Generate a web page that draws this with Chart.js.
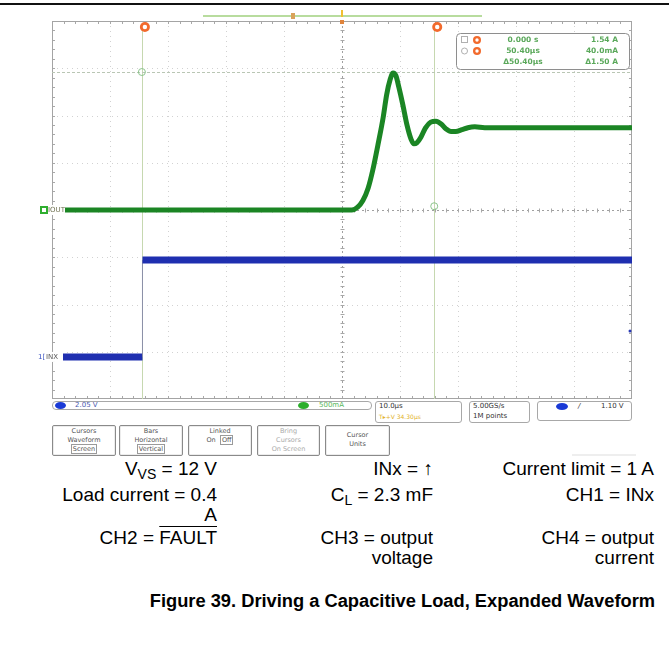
<!DOCTYPE html>
<html>
<head>
<meta charset="utf-8">
<script src="https://cdn.jsdelivr.net/npm/chart.js@4.4.1/dist/chart.umd.min.js"></script>
<style>
html,body{margin:0;padding:0;background:#fff;}
body{position:relative;width:669px;height:654px;overflow:hidden;font-family:"Liberation Sans",Arial,sans-serif;}
#rule{position:absolute;left:0;top:3px;width:669px;height:2px;background:#111;}
#scope{position:absolute;left:0;top:0;}
.sb{position:absolute;border:1px solid #a8a8a8;border-radius:3px;background:#fff;font-family:"DejaVu Sans",sans-serif;font-size:7px;line-height:9px;color:#333;box-sizing:border-box;white-space:nowrap;}
.oval{position:absolute;border-radius:50%;}
.btn{position:absolute;top:425px;height:31px;border:1px solid #8a8a8a;border-radius:2px;box-sizing:border-box;font-family:"DejaVu Sans",sans-serif;font-size:6.5px;line-height:9px;color:#555;text-align:center;padding-top:1px;box-shadow:inset 0 0 0 1px #ececec;white-space:nowrap;}
.sel{border:1px solid #9a9a9a;padding:0 1px;}
.t{position:absolute;font-size:19px;line-height:20px;color:#000;text-align:right;white-space:nowrap;}
.sub{font-size:14px;position:relative;top:4px;}
#cap{position:absolute;top:590px;right:14px;font-size:18.3px;font-weight:bold;line-height:22px;white-space:nowrap;}
</style>
</head>
<body>
<div id="rule"></div>
<canvas id="scope" width="669" height="400"></canvas>

<!-- status bar -->
<div class="sb" style="left:52px;top:401px;width:320px;height:9px;border-radius:4px;">
  <div class="oval" style="left:2px;top:0px;width:11px;height:7px;background:#1a3ad6;"></div>
  <span style="position:absolute;left:22px;top:-1px;color:#4a5ab0;">2.05 V</span>
  <div class="oval" style="left:245px;top:0px;width:11px;height:7px;background:#2cae2c;"></div>
  <span style="position:absolute;left:266px;top:-1px;color:#5ab85a;">500mA</span>
</div>
<div class="sb" style="left:375px;top:401px;width:87px;height:22px;">
  <span style="position:absolute;left:3px;top:0px;">10.0µs</span>
  <span style="position:absolute;left:3px;top:10px;color:#e2b22a;font-size:6px;">T▸+V 34.30µs</span>
</div>
<div class="sb" style="left:469px;top:401px;width:61px;height:22px;">
  <span style="position:absolute;left:3px;top:0px;">5.00GS/s</span>
  <span style="position:absolute;left:3px;top:10px;">1M points</span>
</div>
<div class="sb" style="left:537px;top:401px;width:95px;height:20px;">
  <div class="oval" style="left:18px;top:1px;width:12px;height:7px;background:#1a3ad6;"></div>
  <span style="position:absolute;left:40px;top:0px;font-style:italic;">/</span>
  <span style="position:absolute;left:63px;top:0px;">1.10 V</span>
</div>

<!-- menu buttons -->
<div class="btn" style="left:52px;width:64px;">Cursors<br>Waveform<br><span class="sel">Screen</span></div>
<div class="btn" style="left:119px;width:64px;">Bars<br>Horizontal<br><span class="sel">Vertical</span></div>
<div class="btn" style="left:188px;width:64px;">Linked<br>On &nbsp;<span class="sel">Off</span></div>
<div class="btn" style="left:257px;width:63px;color:#aaa;">Bring<br>Cursors<br>On Screen</div>
<div class="btn" style="left:325px;width:65px;padding-top:5px;">Cursor<br>Units</div>
<div style="position:absolute;left:572px;top:454px;width:64px;height:2px;background:#eee;"></div>

<!-- test conditions -->
<div class="t" style="right:452px;top:459px;">V<span class="sub">VS</span> = 12 V</div>
<div class="t" style="right:452px;top:485px;">Load current = 0.4<br>A</div>
<div class="t" style="right:452px;top:528px;">CH2 = <span style="text-decoration:overline;">FAULT</span></div>
<div class="t" style="right:236px;top:459px;">INx = ↑</div>
<div class="t" style="right:236px;top:485px;">C<span class="sub">L</span> = 2.3 mF</div>
<div class="t" style="right:236px;top:528px;">CH3 = output<br>voltage</div>
<div class="t" style="right:15px;top:459px;">Current limit = 1 A</div>
<div class="t" style="right:15px;top:485px;">CH1 = INx</div>
<div class="t" style="right:15px;top:528px;">CH4 = output<br>current</div>
<div id="cap">Figure 39. Driving a Capacitive Load, Expanded Waveform</div>

<script>
// ---- data ----
// CH4 output current (A) vs time (µs), time 0 = cursor 1 (INx rising edge)
const timeUs = [-15.5, 36.2, 37.2, 38.1, 39.0, 39.8, 40.7, 41.6, 42.2, 42.8, 43.3, 43.8, 44.3, 45.0, 45.7, 46.4, 46.9, 47.4, 48.1, 48.9, 49.8, 50.7, 51.6, 52.4, 53.3, 54.1, 55.2, 56.2, 57.4, 59.1, 84.5];
const ioutA  = [0.00, 0.00, 0.03, 0.10, 0.23, 0.42, 0.69, 0.98, 1.22, 1.38, 1.45, 1.42, 1.30, 1.11, 0.90, 0.75, 0.70, 0.71, 0.77, 0.87, 0.93, 0.94, 0.91, 0.86, 0.83, 0.83, 0.85, 0.87, 0.88, 0.87, 0.87];
// CH1 INx (V)
const inxTimeUs = [-15.5, 0.1, 0.1, 84.5];
const inxV      = [0.0, 0.0, 4.1, 4.1];
// graticule divisions
const divX = [0,1,2,3,4,5,6,7,8,9,10];
const divY = [-4,-3,-2,-1,0,1,2,3,4];
// cursors
const cursorTimeUs = [0, 50.4];
const cursorLevelA = [1.46, 0.04];
const readoutTime  = ['0.000 s', '50.40µs', 'Δ50.40µs'];
const readoutLevel = ['1.54 A', '40.0mA', 'Δ1.50 A'];

const toXY = (xs, ys) => ys.map((v, i) => ({x: xs[i], y: v}));

const deco = {
  id: 'deco',
  beforeDatasetsDraw(chart) {
    const {ctx, chartArea: a, scales} = chart;
    const xs = scales.xd, ys = scales.yd;
    ctx.save();
    ctx.lineWidth = 1;
    ctx.strokeStyle = '#d2d2d2';
    ctx.setLineDash([1, 4]);
    divX.forEach(d => {
      if (d === 0 || d === 10 || d === 5) return;
      const p = Math.round(xs.getPixelForValue(d)) + 0.5;
      ctx.beginPath(); ctx.moveTo(p, a.top); ctx.lineTo(p, a.bottom); ctx.stroke();
    });
    divY.forEach(d => {
      if (d === 0 || d === 4 || d === -4) return;
      const p = Math.round(ys.getPixelForValue(d)) + 0.5;
      ctx.beginPath(); ctx.moveTo(a.left, p); ctx.lineTo(a.right, p); ctx.stroke();
    });
    ctx.strokeStyle = '#a0a0a0';
    ctx.setLineDash([2, 3]);
    const cx = Math.round(xs.getPixelForValue(5)) + 0.5;
    const cy = Math.round(ys.getPixelForValue(0)) + 0.5;
    ctx.beginPath(); ctx.moveTo(cx, a.top); ctx.lineTo(cx, a.bottom); ctx.stroke();
    ctx.beginPath(); ctx.moveTo(a.left, cy); ctx.lineTo(a.right, cy); ctx.stroke();
    ctx.setLineDash([]);
    ctx.strokeStyle = '#a8a8a8';
    for (let k = 1; k < 50; k++) {
      const p = Math.round(xs.getPixelForValue(k / 5)) + 0.5;
      ctx.beginPath();
      ctx.moveTo(p, cy - 2); ctx.lineTo(p, cy + 2);
      ctx.moveTo(p, a.top); ctx.lineTo(p, a.top + 3);
      ctx.moveTo(p, a.bottom); ctx.lineTo(p, a.bottom - 3);
      ctx.stroke();
    }
    for (let k = -19; k < 20; k++) {
      const p = Math.round(ys.getPixelForValue(k / 5)) + 0.5;
      ctx.beginPath();
      ctx.moveTo(cx - 2, p); ctx.lineTo(cx + 2, p);
      ctx.moveTo(a.left, p); ctx.lineTo(a.left + 3, p);
      ctx.moveTo(a.right, p); ctx.lineTo(a.right - 3, p);
      ctx.stroke();
    }
    ctx.strokeStyle = '#a4a4a4';
    ctx.strokeRect(a.left + 0.5, a.top + 0.5, a.width - 1, a.height - 1);
    const tx = scales.x, ya = scales.yA;
    ctx.strokeStyle = '#c6d8b0';
    cursorTimeUs.forEach(t => {
      const p = Math.round(tx.getPixelForValue(t)) + 0.5;
      ctx.beginPath(); ctx.moveTo(p, a.top + 10); ctx.lineTo(p, a.bottom); ctx.stroke();
    });
    ctx.strokeStyle = '#b9c6b4';
    ctx.setLineDash([3, 2]);
    const hy = Math.round(ya.getPixelForValue(cursorLevelA[0])) + 0.5;
    ctx.beginPath(); ctx.moveTo(a.left, hy); ctx.lineTo(a.right, hy); ctx.stroke();
    ctx.restore();
  },
  afterDatasetsDraw(chart) {
    const {ctx, chartArea: a, scales} = chart;
    const tx = scales.x, ya = scales.yA, yv = scales.yV;
    ctx.save();
    const gy = ya.getPixelForValue(0);
    ctx.fillStyle = '#fff'; ctx.fillRect(a.left - 12, gy - 5, 25, 10);
    ctx.strokeStyle = '#2fae2f'; ctx.lineWidth = 2;
    ctx.strokeRect(a.left - 11, gy - 3, 6, 6);
    ctx.fillStyle = '#6e7050'; ctx.font = '7px "DejaVu Sans"'; ctx.textBaseline = 'middle';
    ctx.fillText('IOUT', a.left - 4, gy + 0.5);
    const by = yv.getPixelForValue(0);
    ctx.fillStyle = '#fff'; ctx.fillRect(a.left - 14, by - 5, 25, 10);
    ctx.fillStyle = '#3a52c0'; ctx.fillText('1[', a.left - 14, by + 0.5);
    ctx.fillStyle = '#555'; ctx.fillText('INX', a.left - 6, by + 0.5);
    ctx.fillStyle = '#2a3ab8';
    ctx.beginPath(); ctx.arc(a.right - 2, yv.getPixelForValue(1.1), 1.5, 0, Math.PI * 2); ctx.fill();
    ctx.strokeStyle = '#8cc48c'; ctx.lineWidth = 1;
    cursorTimeUs.forEach((t, i) => {
      ctx.beginPath(); ctx.arc(tx.getPixelForValue(t), ya.getPixelForValue(cursorLevelA[i]), 3.5, 0, Math.PI * 2); ctx.stroke();
    });
    cursorTimeUs.forEach(t => {
      const p = tx.getPixelForValue(t);
      ctx.fillStyle = '#f26a2c';
      ctx.beginPath(); ctx.arc(p + 3, a.top + 6, 5, 0, Math.PI * 2); ctx.fill();
      ctx.fillStyle = '#fff';
      ctx.beginPath(); ctx.arc(p + 3, a.top + 6, 2.2, 0, Math.PI * 2); ctx.fill();
    });
    ctx.strokeStyle = '#b8dc9e'; ctx.lineWidth = 2;
    ctx.beginPath(); ctx.moveTo(203, a.top - 5); ctx.lineTo(482, a.top - 5); ctx.stroke();
    ctx.fillStyle = '#d9a25a'; ctx.fillRect(291, a.top - 8, 4, 6);
    const cx = scales.xd.getPixelForValue(5);
    ctx.strokeStyle = '#f0c030'; ctx.lineWidth = 2;
    ctx.beginPath(); ctx.moveTo(cx, a.top - 11); ctx.lineTo(cx, a.top - 4); ctx.stroke();
    ctx.fillStyle = '#e0843c'; ctx.fillRect(cx - 2, a.top - 1, 4, 4);
    const bx = 456, btop = 33, bw = 173, bh = 36;
    ctx.fillStyle = '#fff'; ctx.strokeStyle = '#8e8e8e'; ctx.lineWidth = 1;
    ctx.beginPath(); ctx.roundRect(bx + 0.5, btop + 0.5, bw, bh, 4); ctx.fill(); ctx.stroke();
    ctx.font = 'bold 7.5px "DejaVu Sans"'; ctx.textBaseline = 'middle';
    readoutTime.forEach((s, i) => {
      const ry = btop + 7 + i * 11;
      if (i < 2) {
        ctx.strokeStyle = '#b0b0b0';
        if (i === 0) ctx.strokeRect(bx + 5.5, ry - 3.5, 6, 6);
        else { ctx.beginPath(); ctx.arc(bx + 8.5, ry, 3, 0, Math.PI * 2); ctx.stroke(); }
        ctx.fillStyle = '#f26a2c';
        ctx.beginPath(); ctx.arc(bx + 21, ry, 4, 0, Math.PI * 2); ctx.fill();
        ctx.fillStyle = '#fff';
        ctx.beginPath(); ctx.arc(bx + 21, ry, 1.7, 0, Math.PI * 2); ctx.fill();
      }
      ctx.fillStyle = '#5aa85a';
      ctx.textAlign = 'center'; ctx.fillText(s, bx + 67, ry);
      ctx.textAlign = 'right'; ctx.fillText(readoutLevel[i], bx + 162, ry);
    });
    ctx.restore();
  }
};

new Chart(document.getElementById('scope'), {
  type: 'line',
  data: {
    datasets: [
      {data: toXY(inxTimeUs, inxV), xAxisID: 'x', yAxisID: 'yV', borderColor: '#1f2fb0', borderWidth: 7, pointRadius: 0, tension: 0,
       segment: {
         borderWidth: c => c.p0.parsed.y !== c.p1.parsed.y ? 1 : 7,
         borderColor: c => c.p0.parsed.y !== c.p1.parsed.y ? '#8a8fa8' : '#1f2fb0'
       }},
      {data: toXY(timeUs, ioutA), xAxisID: 'x', yAxisID: 'yA', borderColor: '#1b8524', borderWidth: 5, pointRadius: 0, cubicInterpolationMode: 'monotone'},
      {data: toXY(timeUs, ioutA), xAxisID: 'x', yAxisID: 'yA', borderColor: '#43d843', borderWidth: 2, pointRadius: 0, cubicInterpolationMode: 'monotone'}
    ]
  },
  options: {
    responsive: false,
    animation: false,
    devicePixelRatio: 1,
    layout: {padding: {left: 52, top: 21, right: 37, bottom: 1}},
    plugins: {legend: {display: false}, tooltip: {enabled: false}},
    scales: {
      x:  {type: 'linear', min: -15.5, max: 84.5, display: false},
      yA: {type: 'linear', min: -2, max: 2, display: false},
      yV: {type: 'linear', min: -1.78, max: 14.22, display: false},
      xd: {type: 'linear', min: 0, max: 10, display: false},
      yd: {type: 'linear', min: -4, max: 4, display: false}
    }
  },
  plugins: [deco]
});
</script>
</body>
</html>
